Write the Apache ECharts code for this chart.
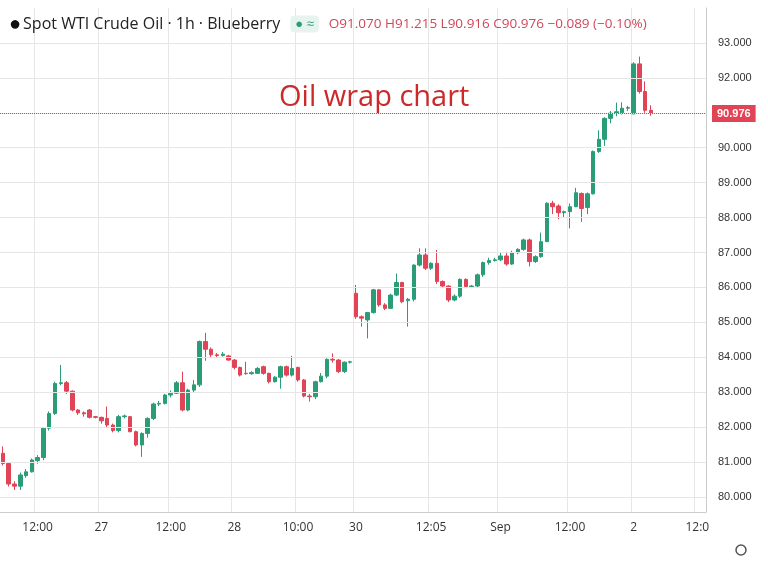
<!DOCTYPE html>
<html><head><meta charset="utf-8">
<script src="https://cdn.jsdelivr.net/npm/echarts@6/dist/echarts.min.js"></script>
<style>html,body{margin:0;padding:0;background:#fff}#c{width:768px;height:578px}</style>
</head><body><div id="c"></div>
<script>
const opens=[81.25,80.96,80.37,80.31,80.61,80.72,81.04,81.13,81.97,82.39,83.25,83.27,83.03,82.49,82.41,82.49,82.3,82.28,82.25,82.06,81.9,82.3,82.3,81.87,81.49,81.82,82.25,82.66,82.68,82.92,82.97,83.27,82.49,83.06,83.21,84.45,84.23,84.07,84.05,84.04,83.92,83.71,83.54,83.53,83.54,83.73,83.54,83.30,83.43,83.73,83.49,83.71,83.35,82.89,82.87,83.30,83.46,83.94,83.92,83.59,83.86,
85.83,85.16,85.07,85.28,85.93,85.5,85.4,85.78,86.14,85.62,85.66,86.64,86.93,86.55,86.69,86.17,86.04,85.64,85.75,86.23,86.02,86.04,86.36,86.71,86.77,86.79,86.90,86.67,86.99,87.09,87.36,86.74,86.88,87.31,88.41,88.33,88.14,88.17,88.31,88.69,88.29,88.68,89.89,90.24,90.84,90.99,91.0,91.13,90.97,92.40,91.61,91.07];
const closes=[80.96,80.37,80.31,80.63,80.72,81.06,81.13,81.97,82.39,83.25,83.27,83.03,82.49,82.41,82.38,82.28,82.28,82.18,82.06,81.9,82.3,82.32,81.87,81.49,81.82,82.25,82.66,82.68,82.92,82.97,83.27,82.49,83.06,83.21,84.45,84.23,84.07,84.05,84.09,83.92,83.71,83.49,83.53,83.56,83.68,83.54,83.30,83.43,83.73,83.49,83.68,83.35,82.89,82.87,83.30,83.46,83.94,83.92,83.59,83.86,83.87,
85.16,85.12,85.28,85.93,85.5,85.4,85.78,86.14,85.59,85.66,86.64,86.93,86.55,86.69,86.17,86.04,85.64,85.75,86.23,86.02,86.04,86.36,86.71,86.77,86.79,86.90,86.67,86.99,87.09,87.36,86.74,86.88,87.31,88.41,88.31,88.14,88.17,88.31,88.71,88.26,88.68,89.89,90.24,90.84,90.99,91.03,91.13,91.15,92.40,91.61,91.07,90.976];
const lows=[80.9,80.3,80.2,80.2,80.55,80.7,80.95,81.05,81.9,82.35,83.2,82.95,82.45,82.35,82.3,82.25,82.25,82.1,82.0,81.85,81.85,82.25,81.85,81.45,81.15,81.7,82.2,82.6,82.65,82.85,82.95,82.45,82.45,83.0,83.15,83.9,84.0,84.0,84.02,83.9,83.65,83.45,83.5,83.5,83.52,83.5,83.25,83.28,83.1,83.45,83.45,83.3,82.85,82.73,82.8,83.28,83.4,83.85,83.55,83.55,83.82,
85.1,84.88,84.54,85.25,85.45,85.35,85.38,85.75,85.55,84.88,85.6,86.6,86.5,86.5,86.1,85.98,85.58,85.6,85.7,85.98,85.98,86.0,86.3,86.65,86.74,86.75,86.62,86.64,86.95,87.05,86.6,86.7,86.85,87.3,88.1,87.95,88.0,87.69,88.3,87.88,88.1,88.66,89.85,90.05,90.7,90.9,90.95,91.05,90.95,91.55,91.0,90.916];
const highs=[81.45,81.0,80.45,80.7,80.8,81.1,81.2,82.0,82.45,83.3,83.78,83.32,83.05,82.52,82.45,82.52,82.32,82.3,82.59,82.1,82.35,82.36,82.32,81.9,81.85,82.28,82.7,82.75,82.95,83.05,83.32,83.59,83.1,83.35,84.48,84.70,84.28,84.12,84.15,84.07,83.95,83.73,83.87,83.6,83.72,83.76,83.56,83.46,83.76,83.76,84.04,83.73,83.38,82.95,83.33,83.55,83.97,84.11,83.95,83.88,83.9,
86.07,85.2,85.3,85.96,85.95,85.55,85.82,86.40,86.16,85.7,86.66,87.12,87.12,86.72,87.07,86.2,86.06,85.8,86.26,86.26,86.07,86.4,86.74,86.85,86.85,87.0,87.02,87.05,87.12,87.4,87.4,86.92,87.57,88.44,88.48,88.38,88.2,88.4,88.85,88.72,88.72,89.92,90.5,90.87,91.05,91.29,91.3,91.2,92.45,92.61,91.9,91.215];
const emptySlots=9;
const tickLabels=['12:00','27','12:00','28','10:00','30','12:05','Sep','12:00','2','12:0'];
const tickIdx=[6,17,29,40,51,61,74,86,98,109,120];
const priceLevels=[80,81,82,83,84,85,86,87,88,89,90,91,92,93];
const lastPrice=90.976;

const n=opens.length+emptySlots;
const cats=[];for(let i=0;i<n;i++){const k=tickIdx.indexOf(i);cats.push(k>=0?tickLabels[k]:' '+i);}
const data=opens.map((o,i)=>[o,closes[i],lows[i],highs[i]]);
for(let i=0;i<emptySlots;i++)data.push('-');
const showIdx=(i)=>tickIdx.indexOf(i)>=0;
const ch=echarts.init(document.getElementById('c'));
const red='#e04456',green='#2a9d78';
ch.setOption({
 animation:false,
 title:[{text:'{ic|●}{t|Spot WTI Crude Oil · 1h · Blueberry}  {g|● ≈}  {r|O91.070 H91.215 L90.916 C90.976 −0.089 (−0.10%)}',left:4,top:9,
  textStyle:{fontWeight:'normal',rich:{ic:{fontSize:20,color:'#111',padding:[0,2,0,0]},t:{fontSize:16,color:'#222',fontFamily:'Open Sans',fontWeight:'normal'},g:{fontSize:13,color:'#2a9d78',backgroundColor:'#e7f3ee',borderRadius:4,padding:[2,5]},r:{fontSize:13.5,color:'#d0485a',fontFamily:'Open Sans',fontWeight:'normal'}}}},
  {text:'Oil wrap chart',left:274,top:78,textStyle:{fontSize:29,fontWeight:'normal',color:'#cc2a2a',fontFamily:'Open Sans'}}],
 grid:{left:0,right:62,top:8,bottom:66},
 xAxis:{type:'category',data:cats,boundaryGap:true,
  axisLine:{lineStyle:{color:'#ccc'}},axisTick:{show:false},
  axisLabel:{interval:(i)=>showIdx(i),color:'#333',fontSize:12,margin:10,fontFamily:'Open Sans'},
  splitLine:{show:true,interval:(i)=>showIdx(i),lineStyle:{color:'#e6e6e6'}}},
 yAxis:{type:'value',position:'right',min:79.57,max:94.0,axisLabel:{show:false},splitLine:{show:false},axisTick:{show:false},axisLine:{show:true,lineStyle:{color:'#ccc'}}},
 series:[{type:'candlestick',data:data,barWidth:4,
  itemStyle:{color:green,color0:red,borderColor:green,borderColor0:red,borderWidth:1},
  markLine:{silent:true,symbol:'none',animation:false,
   data:priceLevels.map(v=>({yAxis:v,lineStyle:{color:'#e6e6e6',type:'solid',width:1},label:{show:true,position:'end',formatter:v.toFixed(3),color:'#333',fontSize:11,distance:12}}))
    .concat([{yAxis:lastPrice,lineStyle:{color:red,type:'dotted',width:1},label:{show:true,position:'end',formatter:lastPrice.toFixed(3),color:'#fff',backgroundColor:red,padding:[3,5],fontSize:11,fontWeight:'bold',distance:6}}])}}],
 graphic:[{type:'circle',shape:{cx:741,cy:550,r:5},style:{fill:'none',stroke:'#555',lineWidth:1.5}}]
});
</script></body></html>
